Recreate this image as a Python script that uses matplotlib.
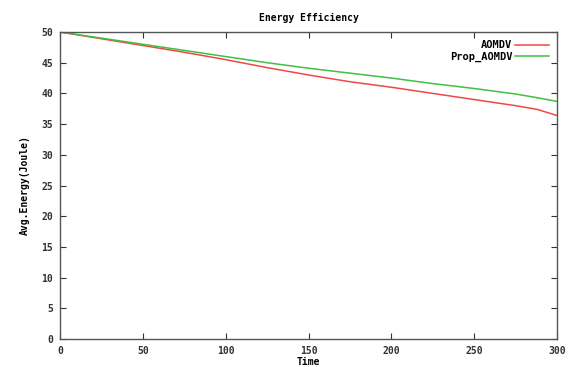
import matplotlib
matplotlib.use("Agg")
import matplotlib.pyplot as plt

time = [0, 25, 50, 75, 100, 125, 150, 175, 200, 225, 250, 275, 288, 300]
aomdv = [50, 48.9, 47.8, 46.7, 45.5, 44.2, 43.0, 41.9, 41.0, 40.0, 39.0, 38.0, 37.4, 36.4]
prop_aomdv = [50, 49.0, 48.0, 47.0, 46.0, 45.0, 44.1, 43.3, 42.5, 41.6, 40.8, 39.9, 39.3, 38.7]
xticks = [0, 50, 100, 150, 200, 250, 300]
yticks = [0, 5, 10, 15, 20, 25, 30, 35, 40, 45, 50]

W, H = 569, 367
fig = plt.figure(figsize=(W / 100, H / 100), dpi=100)
ax = fig.add_axes([60 / W, 1 - 339 / H, 497 / W, 307 / H])

ax.plot(time, aomdv, color="#f04848", lw=1.1, label="AOMDV")
ax.plot(time, prop_aomdv, color="#40c040", lw=1.1, label="Prop_AOMDV")

ax.set_xlim(0, 300)
ax.set_ylim(0, 50)
ax.set_xticks(xticks)
ax.set_yticks(yticks)

font = dict(family="DejaVu Sans Mono", weight="bold", size=7)
ax.set_xticklabels([str(v) for v in xticks], **font)
ax.set_yticklabels([str(v) for v in yticks], **font)
ax.tick_params(direction="in", length=4, width=0.8, top=True, right=True,
               pad=5, colors="#333333")
for s in ax.spines.values():
    s.set_color("#555555")
    s.set_linewidth(1.0)

ax.set_title("Energy Efficiency", pad=8, **font)
ax.set_xlabel("Time", labelpad=1, **font)
ax.set_ylabel("Avg.Energy(Joule)", labelpad=8, **font)

leg = ax.legend(loc="upper right", frameon=False, markerfirst=False,
                prop=dict(family="DejaVu Sans Mono", weight="bold", size=7.5),
                handlelength=3.2, handletextpad=0.3, labelspacing=0.1,
                borderaxespad=0.4)
for t in leg.get_texts():
    t.set_ha("right")

fig.savefig("out.png", dpi=100)
